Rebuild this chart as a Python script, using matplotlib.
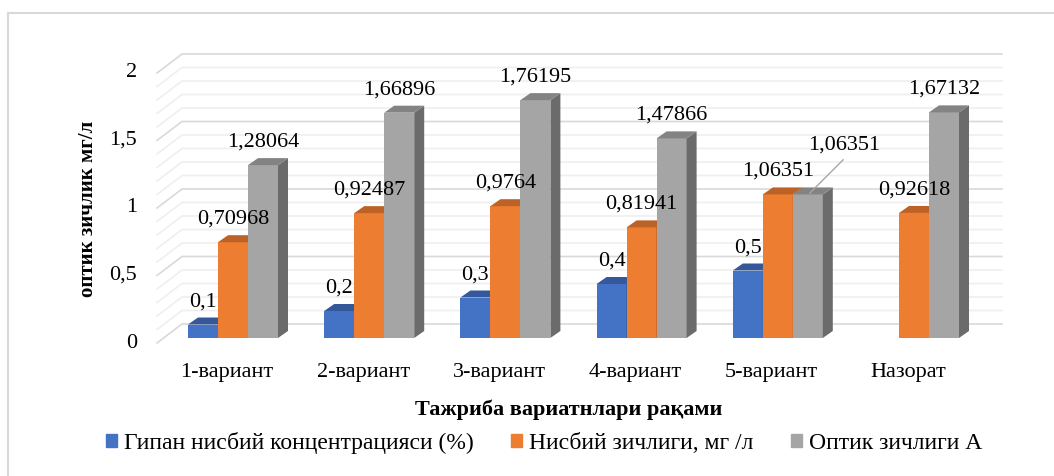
import numpy as np
import matplotlib.pyplot as plt
from matplotlib.patches import Polygon, Patch
from matplotlib.lines import Line2D

plt.rcParams['font.family'] = ['Liberation Serif', 'DejaVu Serif']

# данные
categories = ["1-вариант", "2-вариант", "3-вариант", "4-вариант", "5-вариант", "Назорат"]
gipan = [0.1, 0.2, 0.3, 0.4, 0.5, None]
nisbiy = [0.70968, 0.92487, 0.9764, 0.81941, 1.06351, 0.92618]
optik = [1.28064, 1.66896, 1.76195, 1.47866, 1.06351, 1.67132]
series_names = ["Гипан нисбий концентрацияси (%)", "Нисбий зичлиги, мг /л", "Оптик зичлиги А"]
y_ticks = [0, 0.5, 1, 1.5, 2]
y_tick_labels = ["0", "0,5", "1", "1,5", "2"]

front_cols = ["#4472C4", "#ED7D31", "#A5A5A5"]
top_cols = ["#34589a", "#bd6226", "#838383"]
side_cols = ["#2c4a82", "#a3531f", "#6b6b6b"]

# geometria (pixeles -> unidades)
px_x = 136.2
px_y = 135.0
w = 30 / px_x
ddx = 10 / px_x
ddy = 7 / px_y
off_f = -5 / px_y
off_b = 14 / px_y
xf0 = (157 - 233) / px_x
xb0 = (182 - 233) / px_x
xb1 = (1002 - 233) / px_x

fig = plt.figure(figsize=(10.54, 4.76), dpi=100)
ax = fig.add_axes([140 / 1054, 126 / 476, 870 / 1054, 310 / 476])
ax.set_xlim((140 - 233) / px_x, (1010 - 233) / px_x)
ax.set_ylim((338 - 350) / px_y, (338 - 40) / px_y)
ax.axis("off")

# paredes con lineas de cuadricula
for k in range(21):
    v = k / 10
    col = "#d9d9d9" if k % 5 == 0 else "#efefef"
    ax.plot([xf0, xb0, xb1], [v + off_f, v + off_b, v + off_b], color=col, lw=1.2, zorder=1)

for v, lab in zip(y_ticks, y_tick_labels):
    ax.text((137 - 233) / px_x, v + off_f, lab, ha="right", va="center", fontsize=16, clip_on=False)

for i, cat in enumerate(categories):
    ax.text(i - 0.045, (338 - 373) / px_y, cat, ha="center", va="center", fontsize=16)


def fmt(v):
    return ("%g" % v).replace(".", ",")


all_series = [gipan, nisbiy, optik]
for s, vals in enumerate(all_series):
    for i, v in enumerate(vals):
        if v is None:
            continue
        x = i + (s - 1) * w
        ax.bar(x, v, width=w, color=front_cols[s], zorder=3 + s)
        side = [(x + w / 2, 0), (x + w / 2 + ddx, ddy), (x + w / 2 + ddx, v + ddy), (x + w / 2, v)]
        top = [(x - w / 2, v), (x + w / 2, v), (x + w / 2 + ddx, v + ddy), (x - w / 2 + ddx, v + ddy)]
        ax.add_patch(Polygon(side, closed=True, color=side_cols[s], zorder=3 + s, lw=0))
        ax.add_patch(Polygon(top, closed=True, color=top_cols[s], zorder=3 + s, lw=0))
        if s == 2 and i == 4:
            # etiqueta desplazada con linea guia
            lx, ly = x + 0.264, v + 0.366
            ax.plot([lx - 0.005, x + 0.015], [ly - 0.11, v + 0.01], color="#a6a6a6", lw=1, zorder=10)
            ax.text(lx, ly, fmt(v), ha="center", va="center", fontsize=16, zorder=11)
        else:
            ax.text(x, v + 0.17, fmt(v), ha="center", va="center", fontsize=16, zorder=11)

fig.text(88 / 1054, 1 - 209 / 476, "оптик зичлик мг/л", rotation=90, ha="center", va="center",
         fontsize=15, fontweight="bold")
fig.text(569 / 1054, 1 - 410 / 476, "Тажриба вариатнлари рақами", ha="center", va="center",
         fontsize=16, fontweight="bold")

handles = [Patch(color=c) for c in front_cols]
fig.legend(handles, series_names, loc="center", bbox_to_anchor=(544 / 1054, 1 - 443 / 476), ncol=3,
           frameon=False, fontsize=17, handlelength=0.45, handleheight=0.45, handletextpad=0.3,
           columnspacing=1.6)

# borde del grafico
fig.add_artist(Line2D([8 / 1054, 1], [1 - 13 / 476, 1 - 13 / 476], color="#d9d9d9", lw=1.5))
fig.add_artist(Line2D([8 / 1054, 8 / 1054], [0, 1 - 13 / 476], color="#d9d9d9", lw=1.5))

fig.savefig("out.png", dpi=100, facecolor="white")
